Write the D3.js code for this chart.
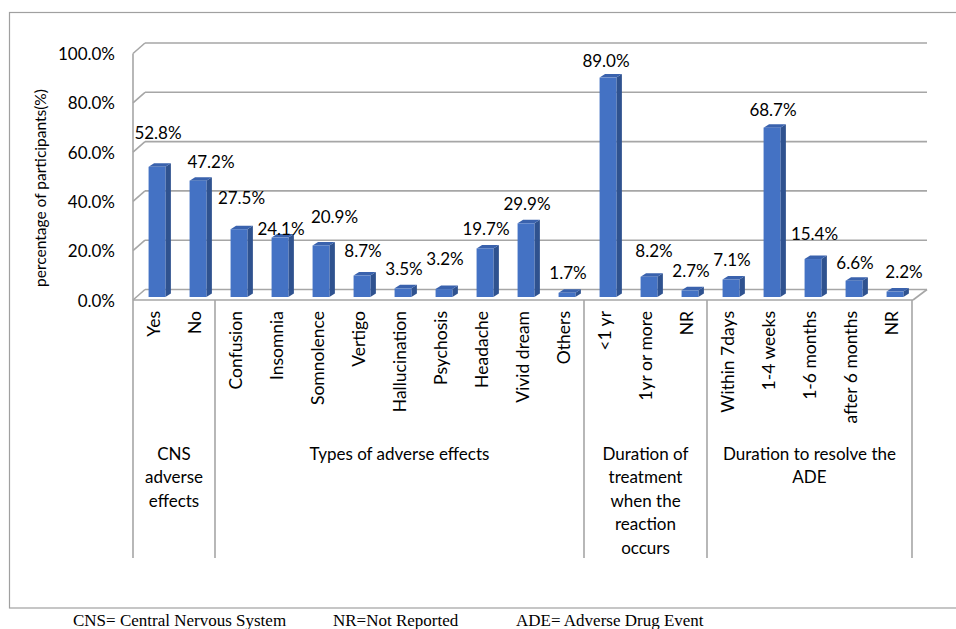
<!DOCTYPE html>
<html>
<head>
<meta charset="utf-8">
<script src="https://cdn.jsdelivr.net/npm/d3@7"></script>
<style>
  body { margin: 0; background: #fff; }
  text { font-family: Lato, "Noto Sans", sans-serif; fill: #000; }
  .foot { font-family: "Liberation Serif", "Times New Roman", serif; }
</style>
</head>
<body>
<svg id="chart" width="956" height="629"></svg>
<script>
// ====== Datos ======
const categories = [
  "Yes", "No",
  "Confusion", "Insomnia", "Somnolence", "Vertigo", "Hallucination", "Psychosis", "Headache", "Vivid dream", "Others",
  "<1 yr", "1yr or more", "NR",
  "Within 7days", "1-4 weeks", "1-6 months", "after 6 months", "NR"
];
const values = [52.8, 47.2, 27.5, 24.1, 20.9, 8.7, 3.5, 3.2, 19.7, 29.9, 1.7, 89.0, 8.2, 2.7, 7.1, 68.7, 15.4, 6.6, 2.2];

const groupLabels = [
  ["CNS", "adverse", "effects"],
  ["Types of adverse effects"],
  ["Duration of", "treatment", "when the", "reaction", "occurs"],
  ["Duration to resolve the", "ADE"]
];
const groupSizes = [2, 9, 3, 5];

const yTicks = [0, 20, 40, 60, 80, 100];
const footnotes = ["CNS= Central Nervous System", "NR=Not Reported", "ADE= Adverse Drug Event"];

// Excel movió algunas etiquetas para que no se pisen (dx, dy extra)
const labelNudge = [
  [0, -14], [12, 1], [1.5, -12], [0, 10.5], [12.5, -9], [0, -5.5], [0, 0], [0, -11], [0, 0], [0, 0],
  [0, 0], [-3, 3], [4, -6.5], [0, 0], [0, 0], [0, 2], [0.5, -6], [0, 1.3], [8, 0.4]
];

// ====== Layout ======
const svg = d3.select("#chart");
const left = 133, right = 912;
const depthX = 12, depthY = 10.5;   // profundidad de la pared 3D
const barDX = 5.5, barDY = 3.5;     // profundidad de cada barra
const gridColor = "#a6a6a6";

const x = d3.scaleBand().domain(d3.range(categories.length)).range([left, right]);
// escala sobre la pared del fondo
const y = d3.scaleLinear().domain([0, 100]).range([289.5, 43]);
const barBase = 7.5;  // las barras están a media profundidad

// marco exterior
svg.append("rect")
  .attr("x", 9.5).attr("y", 12.5).attr("width", 960).attr("height", 595.5)
  .attr("fill", "none").attr("stroke", "#a0a0a0").attr("stroke-width", 1.2);

// ====== Pared y grilla ======
const grid = svg.append("g");
yTicks.forEach(t => {
  const yb = y(t);
  grid.append("line")
    .attr("x1", left + depthX).attr("x2", right + depthX + 3)
    .attr("y1", yb).attr("y2", yb)
    .attr("stroke", gridColor).attr("stroke-width", 1.6);
  grid.append("line")
    .attr("x1", left).attr("y1", yb + depthY)
    .attr("x2", left + depthX).attr("y2", yb)
    .attr("stroke", gridColor).attr("stroke-width", 1.6);
  svg.append("text")
    .attr("x", 115).attr("y", yb + depthY)
    .attr("text-anchor", "end").attr("dominant-baseline", "central")
    .attr("font-size", 17)
    .text(d3.format(".1f")(t) + "%");
});

// piso: borde delantero y lateral derecho
grid.append("line")
  .attr("x1", left).attr("x2", right + 1)
  .attr("y1", y(0) + depthY).attr("y2", y(0) + depthY)
  .attr("stroke", gridColor).attr("stroke-width", 1.6);
grid.append("line")
  .attr("x1", right + 1).attr("y1", y(0) + depthY)
  .attr("x2", right + depthX + 3).attr("y2", y(0))
  .attr("stroke", gridColor).attr("stroke-width", 1.6);
// borde izquierdo (baja hasta el fondo del eje de categorías)
grid.append("line")
  .attr("x1", left).attr("x2", left)
  .attr("y1", y(100) + depthY).attr("y2", 558)
  .attr("stroke", gridColor).attr("stroke-width", 1.6);

// ====== Barras 3D ======
const bw = x.bandwidth();
const bars = svg.append("g");
values.forEach((v, i) => {
  const x0 = x(i) + bw * 0.38;
  const w = bw * 0.41;
  const base = y(0) + barBase;
  const top = y(v) + barBase;
  bars.append("polygon")
    .attr("points", [[x0 + w, top], [x0 + w + barDX, top - barDY], [x0 + w + barDX, base - barDY], [x0 + w, base]].join(" "))
    .attr("fill", "#2f528f");
  bars.append("polygon")
    .attr("points", [[x0, top], [x0 + barDX, top - barDY], [x0 + w + barDX, top - barDY], [x0 + w, top]].join(" "))
    .attr("fill", "#3a62ad");
  bars.append("rect")
    .attr("x", x0).attr("y", top).attr("width", w).attr("height", base - top)
    .attr("fill", "#4472c4");
  // etiqueta de valor
  const [ndx, ndy] = labelNudge[i];
  svg.append("text")
    .attr("x", x(i) + bw / 2 + 4.5 + ndx)
    .attr("y", top - 20 + ndy)
    .attr("text-anchor", "middle").attr("dominant-baseline", "central")
    .attr("font-size", 17)
    .text(d3.format(".1f")(v) + "%");
});

// ====== Eje de categorías ======
categories.forEach((c, i) => {
  const cx = x(i) + bw / 2;
  svg.append("text")
    .attr("transform", `translate(${cx},311) rotate(-90)`)
    .attr("text-anchor", "end").attr("dominant-baseline", "central")
    .attr("font-size", 17.5)
    .text(c);
});

// separadores de grupo + títulos
let start = 0;
groupSizes.forEach((n, g) => {
  const x1 = x(start), x2 = x(start + n - 1) + bw;
  svg.append("line")
    .attr("x1", x2).attr("x2", x2).attr("y1", y(0) + depthY).attr("y2", 558)
    .attr("stroke", gridColor).attr("stroke-width", 1.6);
  const t = svg.append("text")
    .attr("text-anchor", "middle").attr("font-size", 17);
  groupLabels[g].forEach((line, k) => {
    t.append("tspan")
      .attr("x", (x1 + x2) / 2)
      .attr("y", 453 + k * 23.5)
      .attr("dominant-baseline", "central")
      .text(line);
  });
  start += n;
});

// título del eje Y
svg.append("text")
  .attr("transform", "translate(40,188) rotate(-90)")
  .attr("text-anchor", "middle").attr("dominant-baseline", "central")
  .attr("font-size", 15.5)
  .text("percentage of participants(%)");

// notas al pie
const footX = [73, 333, 516];
footnotes.forEach((f, i) => {
  svg.append("text")
    .attr("class", "foot")
    .attr("x", footX[i]).attr("y", 626)
    .attr("font-size", 17)
    .text(f);
});
</script>
</body>
</html>
